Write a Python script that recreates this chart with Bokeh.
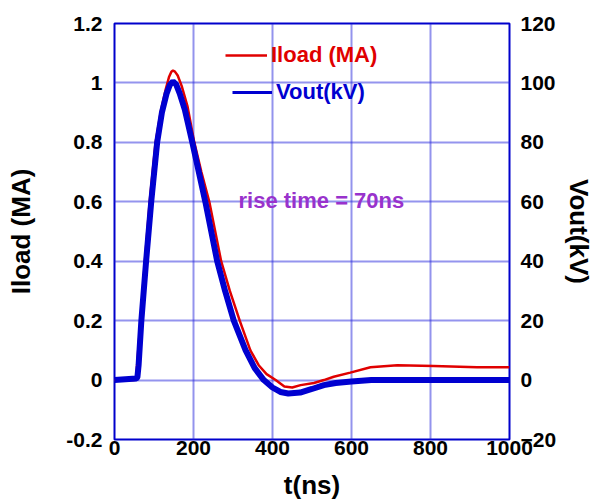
from bokeh.plotting import figure
from bokeh.models import Range1d, LinearAxis, FixedTicker, Legend, LegendItem, Label
from bokeh.embed import file_html
from bokeh.resources import INLINE

# ---- data ----
t_iload = [0, 50, 55, 60, 66, 77, 89, 104, 118, 130, 138, 144, 148, 153, 160, 170, 185, 202,
           220, 240, 270, 292, 317, 344, 365, 385, 408, 430, 450, 471, 505, 530, 555, 597,
           648, 716, 808, 918, 1000]
iload_ma = [0.0, 0.0, 0.01, 0.1, 0.2, 0.4, 0.6, 0.8, 0.91, 0.98, 1.02, 1.038, 1.042, 1.038,
            1.025, 0.99, 0.92, 0.8, 0.7, 0.6, 0.4, 0.3, 0.2, 0.1, 0.05, 0.02, 0.0, -0.022,
            -0.025, -0.017, -0.01, 0.0, 0.011, 0.025, 0.043, 0.05, 0.047, 0.043, 0.043]

t_vout = [0, 55, 58, 61, 68, 80, 93, 108, 120, 132, 140, 148, 156, 165, 178, 197, 230, 260,
          280, 302, 332, 355, 378, 400, 420, 440, 470, 500, 530, 560, 600, 650, 1000]
vout_kv = [0.0, 0.5, 1.0, 5.0, 20.0, 40.0, 60.0, 80.0, 90.0, 96.5, 99.3, 100.5, 99.5, 96.5,
           91.0, 80.0, 60.0, 40.0, 30.0, 20.0, 10.0, 4.0, 0.0, -2.5, -4.0, -4.5, -4.2, -3.0,
           -1.7, -1.0, -0.5, 0.0, 0.0]

x_ticks = [0, 200, 400, 600, 800, 1000]
y_ticks = [-0.2, 0, 0.2, 0.4, 0.6, 0.8, 1, 1.2]
y_tick_labels = ["-0.2", "0", "0.2", "0.4", "0.6", "0.8", "1", "1.2"]
v_ticks = [-20, 0, 20, 40, 60, 80, 100, 120]

FONT = "Liberation Sans"
FRAME_BLUE = "#0000cc"
RED = "#e00000"
BLUE = "#0000d0"

p = figure(width=598, height=502, x_range=Range1d(0, 1000), y_range=Range1d(-0.2, 1.2),
           output_backend="svg", toolbar_location=None,
           min_border_left=114, min_border_right=89, min_border_top=23, min_border_bottom=63)
p.background_fill_color = "white"
p.border_fill_color = "white"
p.outline_line_color = FRAME_BLUE
p.outline_line_width = 2

p.extra_y_ranges = {"v": Range1d(-20, 120)}

r_red = p.line(t_iload, iload_ma, line_color=RED, line_width=2.5)
r_blue = p.line(t_vout, vout_kv, line_color=BLUE, line_width=6, y_range_name="v")
# legend-only glyph (single point: draws nothing in the plot, thinner swatch in the legend)
r_blue_key = p.line(t_vout[:1], vout_kv[:1], line_color=BLUE, line_width=3, y_range_name="v")

# axes
def style_axis(ax):
    ax.axis_line_color = None
    ax.major_tick_in = 0
    ax.major_tick_out = 0
    ax.minor_tick_line_color = None
    ax.major_label_text_font = FONT
    ax.major_label_text_font_style = "bold"
    ax.major_label_text_font_size = "21px"
    ax.major_label_text_color = "black"
    ax.axis_label_text_font = FONT
    ax.axis_label_text_font_style = "bold"
    ax.axis_label_text_font_size = "26px"
    ax.axis_label_text_color = "black"

xa = p.xaxis[0]
style_axis(xa)
xa.ticker = FixedTicker(ticks=x_ticks)
xa.major_label_standoff = 1
xa.axis_label = "t(ns)"
xa.axis_label_standoff = 12

ya = p.yaxis[0]
style_axis(ya)
ya.ticker = FixedTicker(ticks=y_ticks)
ya.major_label_overrides = {v: s for v, s in zip(y_ticks, y_tick_labels)}
ya.major_label_standoff = 12
ya.axis_label = "Iload (MA)"
ya.axis_label_standoff = 27

ra = LinearAxis(y_range_name="v")
style_axis(ra)
ra.ticker = FixedTicker(ticks=v_ticks)
ra.major_label_standoff = 11
ra.axis_label = "Vout(kV)"
ra.axis_label_standoff = 5
p.add_layout(ra, "right")

# grid
for g in (p.xgrid[0], p.ygrid[0]):
    g.grid_line_color = "#2828dc"
    g.grid_line_dash = "1 1"
    g.grid_line_width = 2
p.xgrid[0].ticker = FixedTicker(ticks=x_ticks)
p.ygrid[0].ticker = FixedTicker(ticks=y_ticks)

# legends (two, so each label keeps its colour)
def make_legend(label, rend, loc, color, gw):
    lg = Legend(items=[LegendItem(label=label, renderers=[rend])], location=loc,
                orientation="vertical", padding=0, margin=0, spacing=0,
                glyph_width=gw, glyph_height=20, label_height=20, label_standoff=4,
                border_line_color=None, background_fill_alpha=0,
                label_text_font=FONT, label_text_font_style="bold",
                label_text_font_size="22px", label_text_color=color)
    p.add_layout(lg, "center")

make_legend("Iload (MA)", r_red, (111, 371), RED, 42)
make_legend("Vout(kV)", r_blue_key, (118, 334), BLUE, 40)

p.add_layout(Label(x=314, y=0.605, text="rise time = 70ns", text_font=FONT,
                   text_font_style="bold", text_font_size="22px", text_color="#9932cc",
                   text_baseline="alphabetic", text_align="left"))

open("out.html", "w").write(file_html(p, INLINE))
